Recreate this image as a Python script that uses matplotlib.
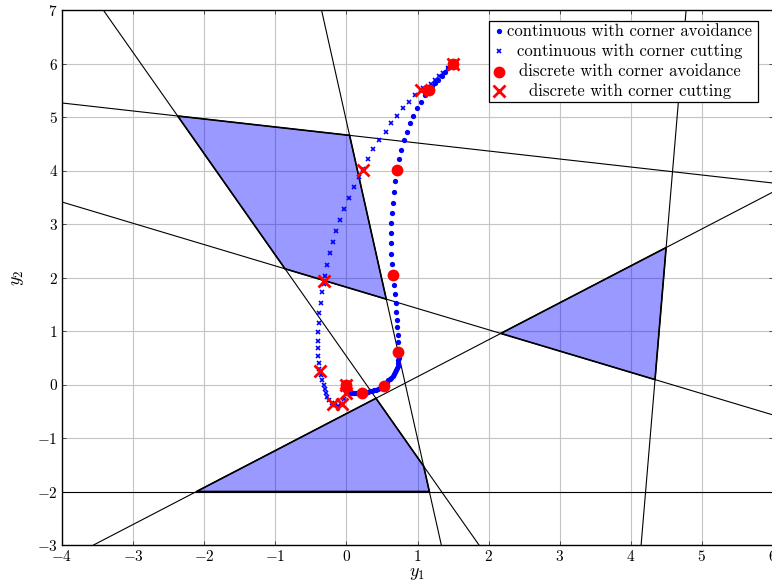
import matplotlib

matplotlib.use("Agg")
import matplotlib.pyplot as plt
import numpy as np
from matplotlib.patches import Polygon, Rectangle

plt.rcParams["font.family"] = "cmr10"
plt.rcParams["mathtext.fontset"] = "cm"
plt.rcParams["axes.formatter.use_mathtext"] = True

# constraint lines, each given by two points on it
lines = [
    ((-4.0, 5.262), (6.0, 3.766)),
    ((-4.0, 3.411), (6.0, -0.569)),
    ((-3.556, -3.0), (6.0, 3.598)),
    ((-4.0, -2.0), (6.0, -2.0)),
    ((-3.42, 7.0), (1.865, -3.0)),
    ((-0.35, 7.0), (1.335, -3.0)),
    ((4.145, -3.0), (4.778, 7.0)),
]
# obstacles as cyclic lists of bounding line indices
obstacles = [
    [0, 5, 1, 4],
    [2, 6, 1],
    [2, 4, 5, 3],
]

# trajectories from (1.5, 6) to the origin
cont_avoid_x = [1.50, 1.43, 1.39, 1.35, 1.29, 1.25, 1.20, 1.16, 1.11, 1.05, 0.99, 0.94, 0.89,
                0.85, 0.81, 0.77, 0.74, 0.71, 0.68, 0.67, 0.66, 0.64, 0.63, 0.63, 0.63, 0.63,
                0.64, 0.66, 0.67, 0.68, 0.70, 0.70, 0.71, 0.71, 0.73, 0.73, 0.73, 0.735, 0.735,
                0.73, 0.73, 0.72, 0.71, 0.70, 0.685, 0.67, 0.65, 0.63, 0.61, 0.59, 0.57, 0.55,
                0.53, 0.50, 0.47, 0.44, 0.42, 0.39, 0.36, 0.33, 0.30, 0.27, 0.25, 0.22, 0.19,
                0.16, 0.14, 0.11, 0.08, 0.06, 0.04, 0.02, 0.01, 0.00, -0.005, 0.00]
cont_avoid_y = [6.01, 5.92, 5.84, 5.77, 5.69, 5.64, 5.58, 5.51, 5.41, 5.28, 5.17, 5.02, 4.89,
                4.72, 4.57, 4.38, 4.22, 4.01, 3.80, 3.60, 3.39, 3.21, 3.02, 2.83, 2.65, 2.44,
                2.25, 2.05, 1.86, 1.69, 1.52, 1.36, 1.21, 1.08, 0.93, 0.79, 0.61, 0.55, 0.50,
                0.45, 0.40, 0.35, 0.31, 0.27, 0.23, 0.19, 0.16, 0.13, 0.10, 0.075, 0.05, 0.03,
                -0.03, -0.05, -0.07, -0.085, -0.10, -0.11, -0.12, -0.13, -0.14, -0.15, -0.155,
                -0.16, -0.16, -0.165, -0.165, -0.16, -0.16, -0.15, -0.14, -0.12, -0.10, -0.07,
                -0.04, 0.00]

cont_cut_x = [1.49, 1.43, 1.36, 1.30, 1.25, 1.19, 1.08, 0.97, 0.88, 0.80, 0.71, 0.63, 0.56,
              0.46, 0.37, 0.30, 0.23, 0.18, 0.11, 0.04, -0.03, -0.09, -0.15, -0.19, -0.23,
              -0.27, -0.30, -0.32, -0.34, -0.36, -0.385, -0.39, -0.40, -0.40, -0.40, -0.40,
              -0.39, -0.38, -0.36, -0.34, -0.32, -0.30, -0.29, -0.27, -0.24, -0.20, -0.16,
              -0.12, -0.08, -0.03, -0.01, 0.00]
cont_cut_y = [6.01, 5.92, 5.82, 5.77, 5.69, 5.62, 5.54, 5.41, 5.28, 5.17, 5.02, 4.89, 4.72,
              4.57, 4.40, 4.22, 4.03, 3.88, 3.69, 3.49, 3.28, 3.08, 2.87, 2.66, 2.46, 2.23,
              2.03, 1.88, 1.73, 1.52, 1.34, 1.15, 0.98, 0.81, 0.68, 0.53, 0.40, 0.29, 0.18,
              0.08, -0.01, -0.08, -0.16, -0.23, -0.29, -0.35, -0.39, -0.40, -0.36, -0.27,
              -0.07, 0.01]

disc_avoid_x = [1.50, 1.16, 0.71, 0.655, 0.73, 0.53, 0.22, 0.00]
disc_avoid_y = [6.00, 5.50, 4.01, 2.05, 0.61, -0.03, -0.16, 0.00]

disc_cut_x = [1.50, 1.05, 0.23, -0.32, -0.37, -0.19, -0.06, 0.00, 0.00]
disc_cut_y = [6.00, 5.50, 4.01, 1.94, 0.26, -0.37, -0.36, -0.16, 0.00]

legend_labels = [
    "continuous with corner avoidance",
    "continuous with corner cutting",
    "discrete with corner avoidance",
    "discrete with corner cutting",
]


def intersect(l1, l2):
    (x1, y1), (x2, y2) = l1
    (x3, y3), (x4, y4) = l2
    a = np.array([[y2 - y1, x1 - x2], [y4 - y3, x3 - x4]])
    b = np.array([(y2 - y1) * x1 + (x1 - x2) * y1, (y4 - y3) * x3 + (x3 - x4) * y3])
    return np.linalg.solve(a, b)


fig = plt.figure(figsize=(7.72, 5.84), dpi=100)
ax = fig.add_axes([62 / 772, 39 / 584, 711 / 772, 535 / 584])
ax.set_xlim(-4, 6)
ax.set_ylim(-3, 7)
ax.set_axisbelow(True)
ax.grid(True, color="#c4c4c4", lw=0.8)
ax.set_xticks(range(-4, 7))
ax.set_yticks(range(-3, 8))
ax.tick_params(direction="in", length=3, width=0.6, labelsize=11, colors="#333333",
               labelcolor="black", top=True, right=True, pad=3)
for s in ax.spines.values():
    s.set_linewidth(1.0)

for ids in obstacles:
    verts = [intersect(lines[ids[i]], lines[ids[(i + 1) % len(ids)]]) for i in range(len(ids))]
    ax.add_patch(Polygon(verts, closed=True, facecolor="blue", alpha=0.4, edgecolor="none",
                         zorder=1))
    ax.add_patch(Polygon(verts, closed=True, fill=False, edgecolor="black", lw=1.2, zorder=2))

for p, q in lines:
    ax.axline(p, q, color="black", lw=0.8, zorder=2)

ax.plot(cont_avoid_x, cont_avoid_y, ls="none", marker="o", ms=3.8, color="blue", mew=0,
        zorder=3)
ax.plot(cont_cut_x, cont_cut_y, ls="none", marker="x", ms=3.5, mew=1.2, color="blue", zorder=3)
ax.plot(disc_avoid_x, disc_avoid_y, ls="none", marker="o", ms=8.5, color="red", mew=0, zorder=4)
ax.plot(disc_cut_x, disc_cut_y, ls="none", marker="x", ms=9, mew=2.0, color="red", zorder=5)

ax.set_xlabel("$y_1$", fontsize=13, labelpad=1)
ax.set_ylabel("$y_2$", fontsize=13, labelpad=8)

# legend box with handles on the left and centred labels
box_l, box_r, box_t, box_b = 0.6006, 0.979, 0.979, 0.828
ax.add_patch(Rectangle((box_l, box_b), box_r - box_l, box_t - box_b, transform=ax.transAxes,
                       facecolor="white", edgecolor="black", lw=0.9, zorder=10))
styles = [
    dict(marker="o", ms=3.8, color="blue", mew=0),
    dict(marker="x", ms=3.5, mew=1.2, color="blue"),
    dict(marker="o", ms=8.5, color="red", mew=0),
    dict(marker="x", ms=9, mew=2.0, color="red"),
]
row_y = [0.960, 0.923, 0.885, 0.849]
for label, st, yy in zip(legend_labels, styles, row_y):
    ax.plot([0.6149], [yy], transform=ax.transAxes, ls="none", zorder=11, clip_on=False, **st)
    ax.text(0.7985, yy, label, transform=ax.transAxes, ha="center", va="center", fontsize=12,
            zorder=11)

fig.savefig("out.png", dpi=100)
